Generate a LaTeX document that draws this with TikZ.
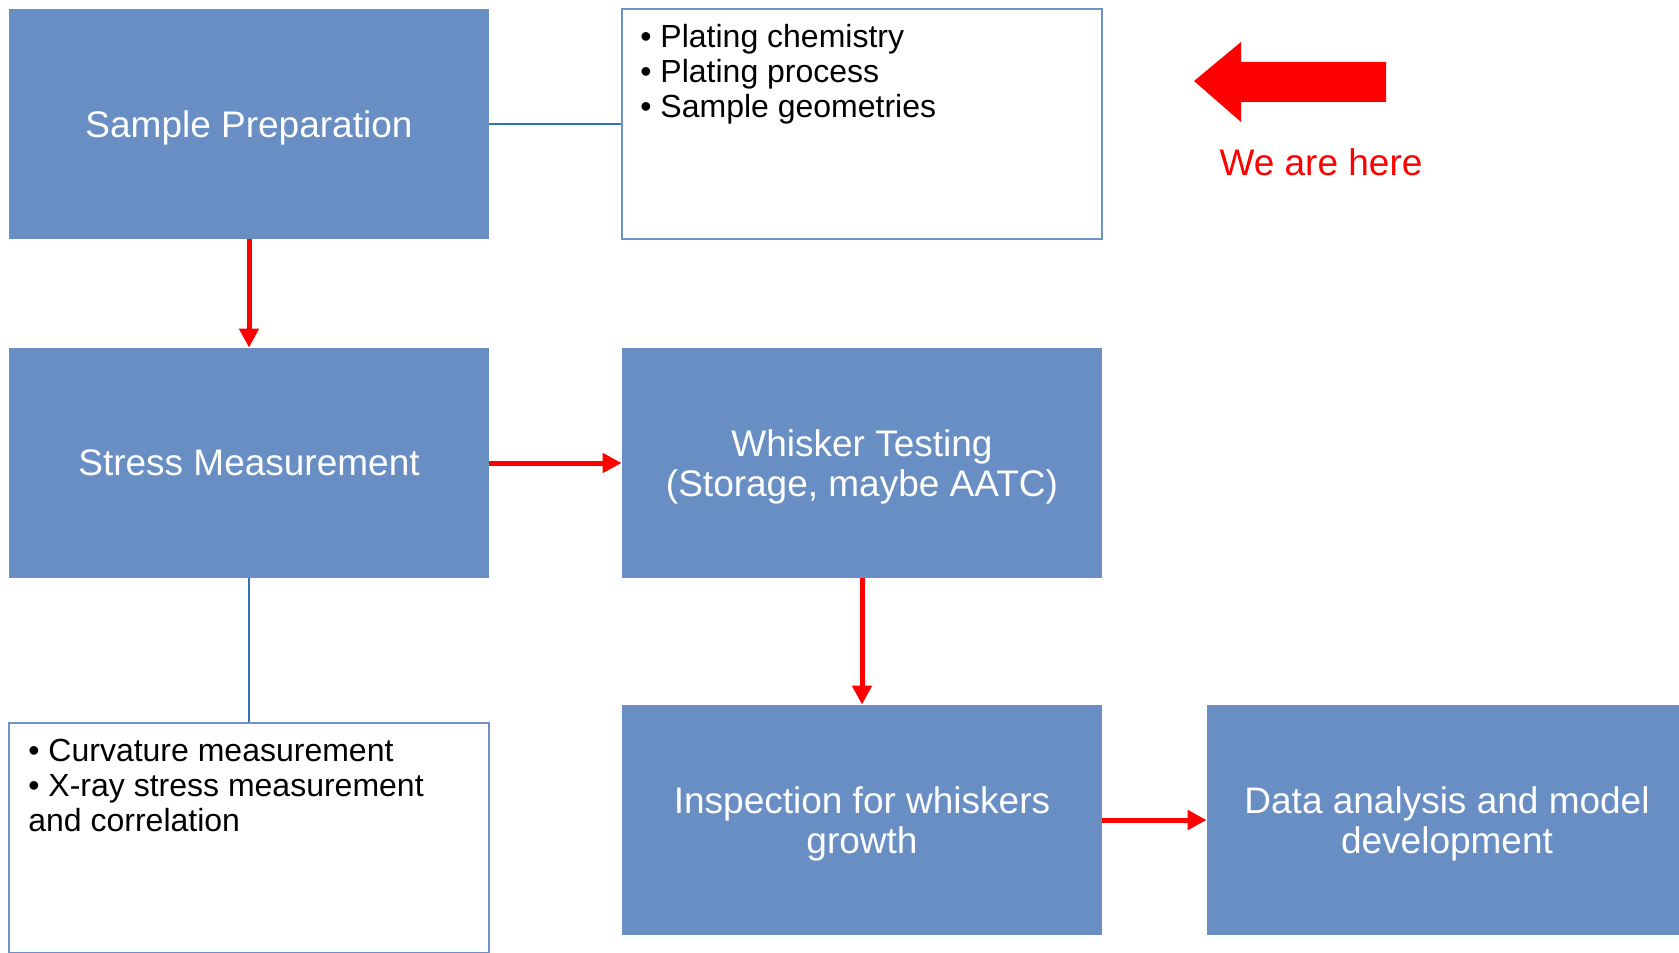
\documentclass[tikz,border=0pt]{standalone}
\usepackage{fontspec}
\setmainfont{Liberation Sans}
\usetikzlibrary{arrows.meta}
\definecolor{boxblue}{RGB}{104,142,196}
\definecolor{edgeblue}{RGB}{110,146,200}
\definecolor{lineblue}{RGB}{46,117,182}
\begin{document}
\begin{tikzpicture}[x=0.5pt, y=-0.5pt,
	stage/.style={fill=boxblue, text=white, minimum width=240pt, minimum height=115pt, inner sep=0pt, align=center, text depth=0pt, font=\fontsize{18.5}{20}\selectfont},
	notes/.style={draw=edgeblue, line width=0.75pt, minimum width=240pt, minimum height=115pt, inner sep=0pt},
	bullets/.style={anchor=north west, inner sep=0pt, align=left, font=\fontsize{16}{17.5}\selectfont},
	flow/.style={red, line width=2.5pt, -{Triangle[width=9.5pt,length=9.5pt]}},
	link/.style={lineblue, line width=1pt}]
				\useasboundingbox (0,0) rectangle (1679,952);
				\clip (0,0) rectangle (1679,952);
				\node[stage] (prep) at (249,124) {Sample Preparation};
				\node[notes] (prepnotes) at (862,124) {};
				\node[bullets] (preplist) at (640,24) {\textbullet\ Plating chemistry\\\textbullet\ Plating process\\\textbullet\ Sample geometries};
				\node[stage] (stress) at (249,463) {Stress Measurement};
				\node[notes] (stressnotes) at (249,838) {};
				\node[bullets] (stresslist) at (28,739) {\textbullet\ Curvature measurement\\\textbullet\ X-ray stress measurement\\and correlation};
				\node[stage] (whisker) at (862,463) {Whisker Testing\\(Storage, maybe AATC)};
				\node[stage] (inspect) at (862,820) {Inspection for whiskers\\growth};
				\node[stage] (data) at (1447,820) {Data analysis and model\\development};
				\draw[link] (prep) to (prepnotes);
				\draw[link] (stress) to (stressnotes);
				\draw[flow] (prep) to (stress);
				\draw[flow] (stress) to (whisker);
				\draw[flow] (whisker) to (inspect);
				\draw[flow] (inspect) to (data);
				% we are here marker
				\fill[red] (1194,81) -- (1241,42) -- (1241,62) -- (1386,62) -- (1386,102) -- (1241,102) -- (1241,122) -- cycle;
				\node[red, anchor=base, inner sep=0pt, font=\fontsize{18.5}{20}\selectfont] (here) at (1321,176) {We are here};
			\end{tikzpicture}
\end{document}
